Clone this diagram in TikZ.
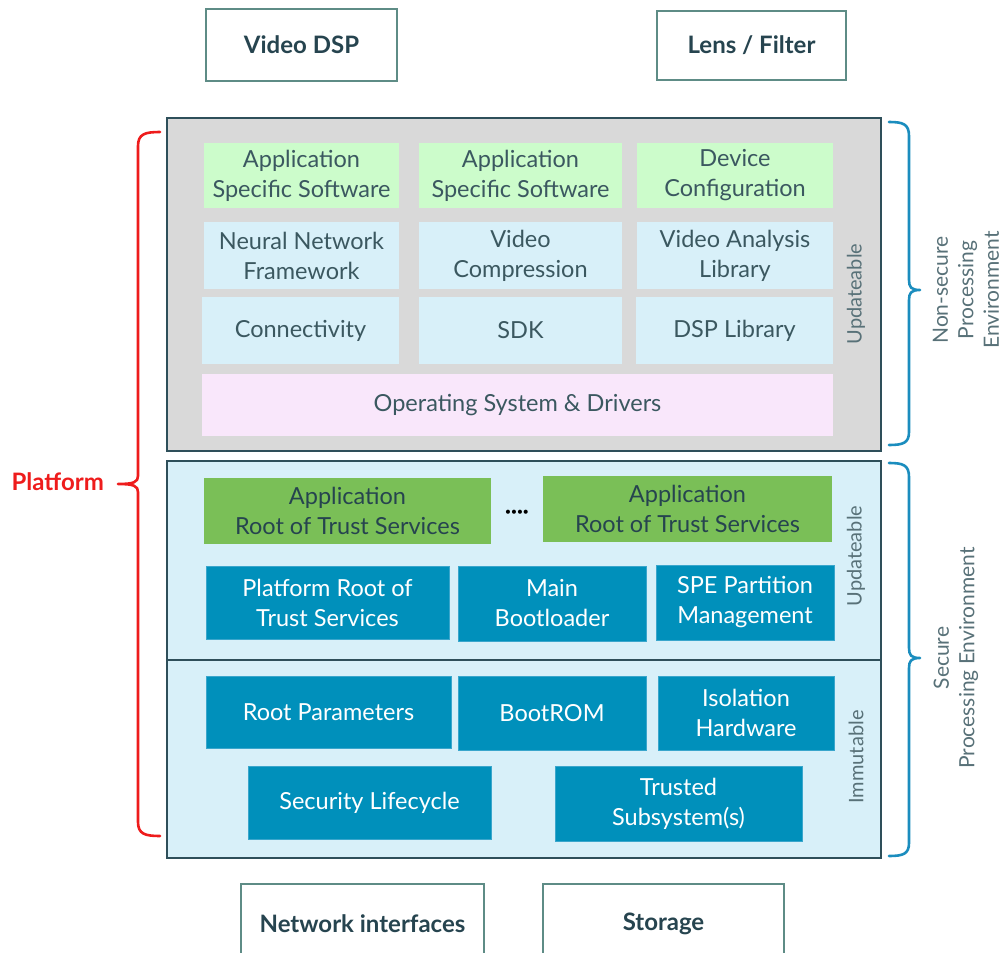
\documentclass[tikz,border=0pt]{standalone}
\usepackage{fontspec}
\setmainfont{Lato}
\definecolor{frame}{HTML}{2E4F5A}
\definecolor{greyfill}{HTML}{D9D9D9}
\definecolor{lgreen}{HTML}{CCFCCB}
\definecolor{lblue}{HTML}{D8F0F9}
\definecolor{lpink}{HTML}{F9E7FB}
\definecolor{dgreen}{HTML}{7ABF57}
\definecolor{dblue}{HTML}{0090BB}
\definecolor{dblueedge}{HTML}{3AA6CC}
\definecolor{txt}{HTML}{3B5860}
\definecolor{toptxt}{HTML}{26444F}
\definecolor{topframe}{HTML}{5E8C86}
\definecolor{brblue}{HTML}{1B8DBE}
\definecolor{brred}{HTML}{EE1C1C}
\tikzset{
  bx/.style={inner sep=0pt, align=center, font=\fontsize{23.5}{30}\selectfont, text=txt},
  dbx/.style={bx, fill=dblue, draw=dblueedge, line width=0.8pt, text=white},
  topbox/.style={draw=topframe, line width=1.2pt, fill=white, inner sep=0pt, font=\fontsize{24}{28}\selectfont\bfseries, text=toptxt},
  sidelbl/.style={rotate=90, font=\fontsize{20}{24}\selectfont, text=txt!85!white},
  envlbl/.style={rotate=90, align=center, font=\fontsize{21}{25.5}\selectfont, text=txt!85!white},
  brace/.style={line width=2.6pt, line cap=round, line join=round}
}
\begin{document}
\begin{tikzpicture}[x=1pt,y=-1pt]
\useasboundingbox (0,0) rectangle (1002,953);
% outer boxes
\node[topbox, minimum width=191pt, minimum height=72pt] (vdsp) at (301.5,45) {Video DSP};
\node[topbox, minimum width=189pt, minimum height=69pt] (lens) at (751.5,45.5) {Lens / Filter};
\node[topbox, minimum width=243pt, minimum height=80pt] (net) at (362.5,924) {Network interfaces};
\node[topbox, minimum width=241pt, minimum height=80pt] (stor) at (663.5,924) {Storage};
% non-secure container
\node[draw=frame, line width=1.3pt, fill=greyfill, minimum width=714pt, minimum height=333pt, inner sep=0pt] (nspe) at (524,284.5) {};
% secure container
\node[draw=frame, line width=1.3pt, fill=lblue, minimum width=714pt, minimum height=397pt, inner sep=0pt] (spe) at (524,659.5) {};
\coordinate (divl) at (167,660);
\coordinate (divr) at (881,660);
\draw[frame, line width=1.3pt] (divl) -- (divr);
% non-secure content
\node[bx, fill=lgreen, minimum width=195pt, minimum height=65pt] (ass1) at (301.5,175.5) {Application\\Specific Software};
\node[bx, fill=lgreen, minimum width=203pt, minimum height=65pt] (ass2) at (520.5,175.5) {Application\\Specific Software};
\node[bx, fill=lgreen, minimum width=196pt, minimum height=65pt] (devc) at (735,175.5) {Device\\Configuration};
\node[bx, fill=lblue, minimum width=195pt, minimum height=67pt] (nnf) at (301.5,255.5) {Neural Network\\Framework};
\node[bx, fill=lblue, minimum width=203pt, minimum height=67pt] (vcomp) at (520.5,255.5) {Video\\Compression};
\node[bx, fill=lblue, minimum width=196pt, minimum height=67pt] (val) at (735,255.5) {Video Analysis\\Library};
\node[bx, fill=lblue, minimum width=197pt, minimum height=67pt] (conn) at (300.5,330.5) {Connectivity};
\node[bx, fill=lblue, minimum width=203pt, minimum height=67pt] (sdk) at (520.5,330.5) {SDK};
\node[bx, fill=lblue, minimum width=197pt, minimum height=67pt] (dspl) at (734.5,330.5) {DSP Library};
\node[bx, fill=lpink, minimum width=631pt, minimum height=62pt] (os) at (517.5,405) {Operating System \& Drivers};
\node[sidelbl] (upd1) at (856,294) {Updateable};
% secure updateable
\node[bx, fill=dgreen, text=toptxt, minimum width=287pt, minimum height=66pt] (art1) at (347.5,511) {Application\\Root of Trust Services};
\node[bx, fill=dgreen, text=toptxt, minimum width=289pt, minimum height=66pt] (art2) at (687.5,509) {Application\\Root of Trust Services};
\node[font=\fontsize{11}{11}\selectfont, text=black, inner sep=0pt] (dots) at (517,513) {\textbullet\kern-0.5pt\textbullet\kern-0.5pt\textbullet\kern-0.5pt\textbullet};
\node[dbx, minimum width=243pt, minimum height=73pt] (prot) at (327.5,602.5) {Platform Root of\\Trust Services};
\node[dbx, minimum width=188pt, minimum height=75pt] (mboot) at (552,603.5) {Main\\Bootloader};
\node[dbx, minimum width=178pt, minimum height=75pt] (spem) at (745,602.5) {SPE Partition\\Management};
\node[sidelbl] (upd2) at (856,556) {Updateable};
% secure immutable
\node[dbx, minimum width=245pt, minimum height=72pt] (rootp) at (328.5,712) {Root Parameters};
\node[dbx, minimum width=188pt, minimum height=74pt] (brom) at (552,713) {BootROM};
\node[dbx, minimum width=176pt, minimum height=74pt] (iso) at (746,713) {Isolation\\Hardware};
\node[dbx, minimum width=243pt, minimum height=73pt] (slc) at (369.5,802.5) {Security Lifecycle};
\node[dbx, minimum width=247pt, minimum height=75pt] (tss) at (678.5,803.5) {Trusted\\Subsystem(s)};
\node[sidelbl] (imm) at (856,757) {Immutable};
% right braces
\draw[brace, brblue] (889,122) .. controls (903,122) and (909,124) .. (909,136) -- (909,280)
  .. controls (909,287) and (911,290) .. (920,290)
  (920,290) .. controls (911,290) and (909,293) .. (909,300) -- (909,432)
  .. controls (909,443) and (903,445) .. (889,445);
\draw[brace, brblue] (889,463) .. controls (903,463) and (909,465) .. (909,477) -- (909,648)
  .. controls (909,655) and (911,658) .. (920,658)
  (920,658) .. controls (911,658) and (909,661) .. (909,668) -- (909,843)
  .. controls (909,854) and (903,856) .. (889,856);
\node[envlbl] (nspelbl) at (966,290) {Non-secure\\Processing\\Environment};
\node[envlbl] (spelbl) at (956,658) {Secure\\Processing Environment};
% left red brace
\draw[brace, brred] (160,132) .. controls (145,132) and (138,134) .. (138,146) -- (138,476)
  .. controls (138,482) and (134,484) .. (118,484)
  (118,484) .. controls (134,484) and (138,486) .. (138,492) -- (138,822)
  .. controls (138,834) and (145,836) .. (160,836);
\node[font=\fontsize{24}{26}\selectfont\bfseries, text=brred, anchor=east, inner sep=0pt] (plat) at (104,482) {Platform};
\end{tikzpicture}
\end{document}
